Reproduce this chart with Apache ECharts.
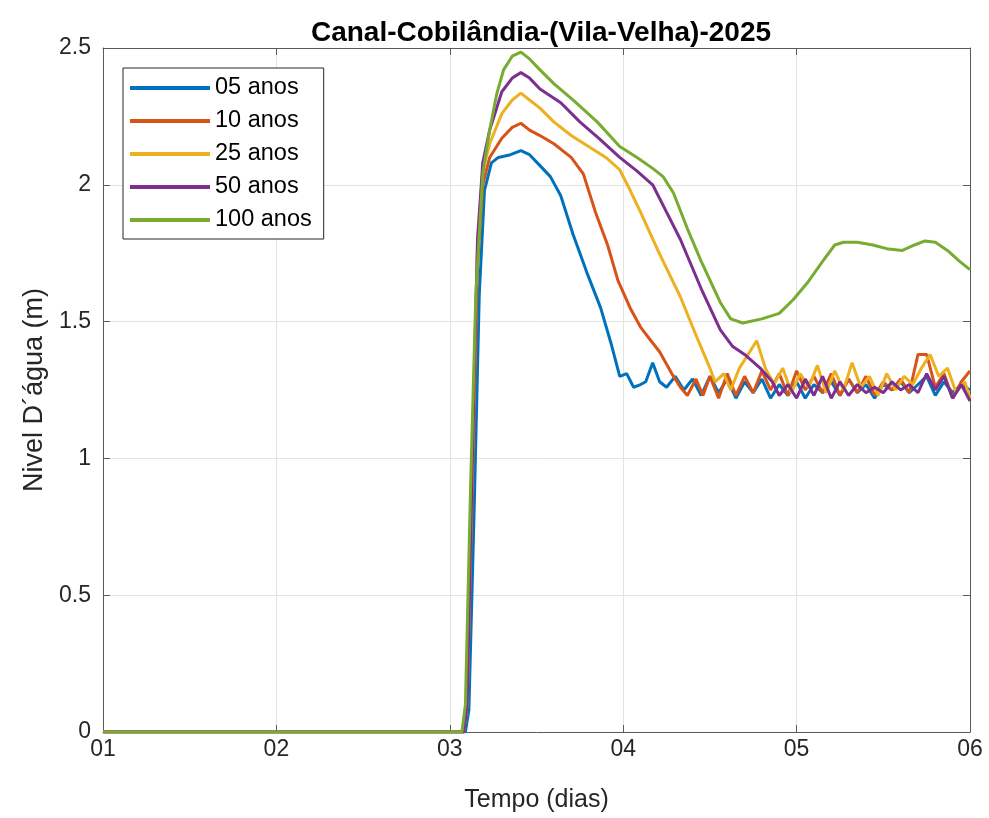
<!DOCTYPE html>
<html>
<head>
<meta charset="utf-8">
<script src="https://cdn.jsdelivr.net/npm/echarts@6/dist/echarts.min.js"></script>
<style>html,body{margin:0;padding:0;background:#fff}#c{width:989px;height:818px}</style>
</head>
<body>
<div id="c"></div>
<script>
const titleText = 'Canal-Cobilândia-(Vila-Velha)-2025';
const xTickLabels = ['01', '02', '03', '04', '05', '06'];
const seriesNames = ['05 anos', '10 anos', '25 anos', '50 anos', '100 anos'];

const t05 = [1, 3.09, 3.11, 3.14, 3.17, 3.2, 3.24, 3.28, 3.35, 3.41, 3.46, 3.52, 3.58, 3.64, 3.71, 3.79, 3.87, 3.93, 3.98, 4.02, 4.06, 4.1, 4.13, 4.17, 4.21, 4.25, 4.3, 4.35, 4.4, 4.45, 4.5, 4.55, 4.6, 4.65, 4.7, 4.75, 4.8, 4.85, 4.9, 4.95, 5.0, 5.05, 5.1, 5.15, 5.2, 5.25, 5.3, 5.35, 5.4, 5.45, 5.5, 5.55, 5.6, 5.65, 5.7, 5.75, 5.8, 5.85, 5.9, 5.95, 6.0];
const v05 = [0, 0, 0.08, 0.8, 1.6, 1.98, 2.08, 2.1, 2.11, 2.125, 2.11, 2.07, 2.03, 1.96, 1.82, 1.68, 1.55, 1.42, 1.30, 1.31, 1.26, 1.27, 1.28, 1.35, 1.28, 1.26, 1.30, 1.25, 1.29, 1.23, 1.30, 1.24, 1.29, 1.22, 1.28, 1.24, 1.29, 1.22, 1.27, 1.23, 1.28, 1.22, 1.27, 1.24, 1.28, 1.23, 1.29, 1.24, 1.27, 1.22, 1.27, 1.25, 1.28, 1.24, 1.27, 1.30, 1.23, 1.28, 1.24, 1.27, 1.25];

const t10 = [1, 3.08, 3.10, 3.13, 3.16, 3.19, 3.23, 3.3, 3.36, 3.41, 3.46, 3.52, 3.6, 3.7, 3.77, 3.84, 3.91, 3.97, 4.04, 4.1, 4.16, 4.21, 4.28, 4.33, 4.37, 4.42, 4.46, 4.5, 4.55, 4.6, 4.65, 4.7, 4.75, 4.8, 4.85, 4.9, 4.95, 5.0, 5.05, 5.1, 5.15, 5.2, 5.25, 5.3, 5.35, 5.4, 5.45, 5.5, 5.55, 5.6, 5.65, 5.7, 5.75, 5.8, 5.85, 5.9, 5.95, 6.0];
const v10 = [0, 0, 0.1, 0.9, 1.7, 2.0, 2.1, 2.17, 2.21, 2.225, 2.2, 2.18, 2.15, 2.1, 2.04, 1.9, 1.78, 1.65, 1.55, 1.48, 1.43, 1.39, 1.31, 1.26, 1.23, 1.29, 1.23, 1.30, 1.22, 1.31, 1.23, 1.30, 1.24, 1.32, 1.25, 1.31, 1.23, 1.32, 1.25, 1.30, 1.24, 1.31, 1.23, 1.29, 1.24, 1.30, 1.23, 1.28, 1.25, 1.29, 1.24, 1.38, 1.38, 1.26, 1.31, 1.22, 1.28, 1.32];

const t25 = [1, 3.08, 3.10, 3.13, 3.16, 3.19, 3.23, 3.3, 3.36, 3.41, 3.46, 3.52, 3.6, 3.7, 3.8, 3.9, 3.98, 4.04, 4.1, 4.2, 4.33, 4.42, 4.5, 4.53, 4.58, 4.62, 4.67, 4.72, 4.77, 4.82, 4.87, 4.92, 4.97, 5.02, 5.07, 5.12, 5.17, 5.22, 5.27, 5.32, 5.37, 5.42, 5.47, 5.52, 5.57, 5.62, 5.67, 5.72, 5.77, 5.82, 5.87, 5.92, 5.97, 6.0];
const v25 = [0, 0, 0.1, 1.0, 1.8, 2.05, 2.15, 2.26, 2.31, 2.335, 2.31, 2.28, 2.23, 2.18, 2.14, 2.1, 2.055, 1.98, 1.9, 1.76, 1.59, 1.45, 1.33, 1.28, 1.31, 1.25, 1.33, 1.38, 1.43, 1.33, 1.27, 1.33, 1.24, 1.31, 1.26, 1.34, 1.24, 1.32, 1.25, 1.35, 1.26, 1.30, 1.23, 1.31, 1.25, 1.30, 1.27, 1.33, 1.38, 1.30, 1.33, 1.24, 1.28, 1.22];

const t50 = [1, 3.08, 3.10, 3.13, 3.16, 3.19, 3.23, 3.3, 3.36, 3.41, 3.46, 3.52, 3.64, 3.75, 3.86, 3.98, 4.08, 4.17, 4.25, 4.33, 4.45, 4.56, 4.63, 4.7, 4.79, 4.86, 4.9, 4.95, 5.0, 5.05, 5.1, 5.15, 5.2, 5.25, 5.3, 5.35, 5.4, 5.45, 5.5, 5.55, 5.6, 5.65, 5.7, 5.75, 5.8, 5.85, 5.9, 5.95, 6.0];
const v50 = [0, 0, 0.1, 1.0, 1.8, 2.08, 2.2, 2.34, 2.39, 2.41, 2.39, 2.35, 2.3, 2.23, 2.17, 2.10, 2.05, 2.0, 1.9, 1.8, 1.62, 1.47, 1.41, 1.38, 1.33, 1.28, 1.23, 1.27, 1.22, 1.29, 1.23, 1.30, 1.22, 1.28, 1.23, 1.27, 1.24, 1.26, 1.24, 1.28, 1.25, 1.27, 1.24, 1.31, 1.25, 1.30, 1.22, 1.27, 1.21];

const t100 = [1, 3.07, 3.09, 3.12, 3.15, 3.19, 3.23, 3.27, 3.31, 3.36, 3.41, 3.46, 3.52, 3.6, 3.71, 3.85, 3.98, 4.08, 4.17, 4.23, 4.29, 4.37, 4.45, 4.56, 4.62, 4.69, 4.8, 4.9, 4.98, 5.06, 5.15, 5.22, 5.27, 5.35, 5.44, 5.53, 5.61, 5.68, 5.74, 5.8, 5.87, 5.94, 6.0];
const v100 = [0, 0, 0.1, 0.9, 1.6, 2.04, 2.2, 2.33, 2.42, 2.47, 2.485, 2.46, 2.42, 2.37, 2.31, 2.23, 2.14, 2.1, 2.06, 2.03, 1.97, 1.84, 1.72, 1.57, 1.51, 1.495, 1.51, 1.53, 1.58, 1.64, 1.72, 1.78, 1.79, 1.79, 1.78, 1.765, 1.76, 1.78, 1.795, 1.79, 1.76, 1.72, 1.69];

const times = [t05, t10, t25, t50, t100];
const values = [v05, v10, v25, v50, v100];
const colors = ['#0072BD', '#D95319', '#EDB120', '#7E2F8E', '#77AC30'];

const FONT = 'Liberation Sans';
const TXT = '#262626';
const AX = '#5a5a5a';

const chart = echarts.init(document.getElementById('c'), null, {renderer: 'canvas'});

const series = seriesNames.map((n, i) => ({
  name: n,
  type: 'line',
  xAxisIndex: 0,
  yAxisIndex: 0,
  data: times[i].map((t, k) => [t, values[i][k]]),
  showSymbol: false,
  symbol: 'none',
  smooth: false,
  lineStyle: {width: 3, color: colors[i]},
  itemStyle: {color: colors[i]},
  emphasis: {disabled: true},
  animation: false
}));

chart.setOption({
  animation: false,
  backgroundColor: '#fff',
  title: {
    text: titleText,
    left: 536,
    textAlign: 'center',
    top: 14,
    textStyle: {fontFamily: FONT, fontSize: 28, fontWeight: 'bold', color: '#000'}
  },
  legend: {
    orient: 'vertical',
    left: 123,
    top: 68,
    data: seriesNames,
    icon: 'rect',
    itemWidth: 80,
    itemHeight: 4,
    itemGap: 9,
    padding: [8, 12, 7, 7],
    backgroundColor: '#fff',
    borderColor: '#262626',
    borderWidth: 1,
    textStyle: {fontFamily: FONT, fontSize: 23.5, color: '#000', lineHeight: 24},
    selectedMode: false
  },
  grid: {left: 103, right: 19, top: 48, bottom: 85, containLabel: false},
  xAxis: [{
    type: 'value',
    min: 1, max: 6, interval: 1,
    name: 'Tempo (dias)',
    nameLocation: 'middle',
    nameGap: 56,
    nameTextStyle: {fontFamily: FONT, fontSize: 25, color: TXT},
    axisLine: {show: true, onZero: false, lineStyle: {color: AX, width: 1}},
    axisTick: {show: true, inside: true, length: 7, lineStyle: {color: AX}},
    axisLabel: {fontFamily: FONT, fontSize: 23, color: TXT, margin: 6,
      formatter: v => xTickLabels[Math.round(v) - 1]},
    splitLine: {show: true, lineStyle: {color: '#e3e3e3', width: 1}}
  }, {
    type: 'value', position: 'top',
    min: 1, max: 6, interval: 1,
    axisLine: {show: true, onZero: false, lineStyle: {color: AX, width: 1}},
    axisTick: {show: true, inside: true, length: 7, lineStyle: {color: AX}},
    axisLabel: {show: false},
    splitLine: {show: false}
  }],
  yAxis: [{
    type: 'value',
    min: 0, max: 2.5, interval: 0.5,
    name: 'Nivel D´água (m)',
    nameLocation: 'middle',
    nameGap: 55,
    nameTextStyle: {fontFamily: FONT, fontSize: 27, color: TXT},
    axisLine: {show: true, onZero: false, lineStyle: {color: AX, width: 1}},
    axisTick: {show: true, inside: true, length: 7, lineStyle: {color: AX}},
    axisLabel: {fontFamily: FONT, fontSize: 23, color: TXT, margin: 12},
    splitLine: {show: true, lineStyle: {color: '#e3e3e3', width: 1}}
  }, {
    type: 'value', position: 'right',
    min: 0, max: 2.5, interval: 0.5,
    axisLine: {show: true, onZero: false, lineStyle: {color: AX, width: 1}},
    axisTick: {show: true, inside: true, length: 7, lineStyle: {color: AX}},
    axisLabel: {show: false},
    splitLine: {show: false}
  }],
  series: series
});
</script>
</body>
</html>
